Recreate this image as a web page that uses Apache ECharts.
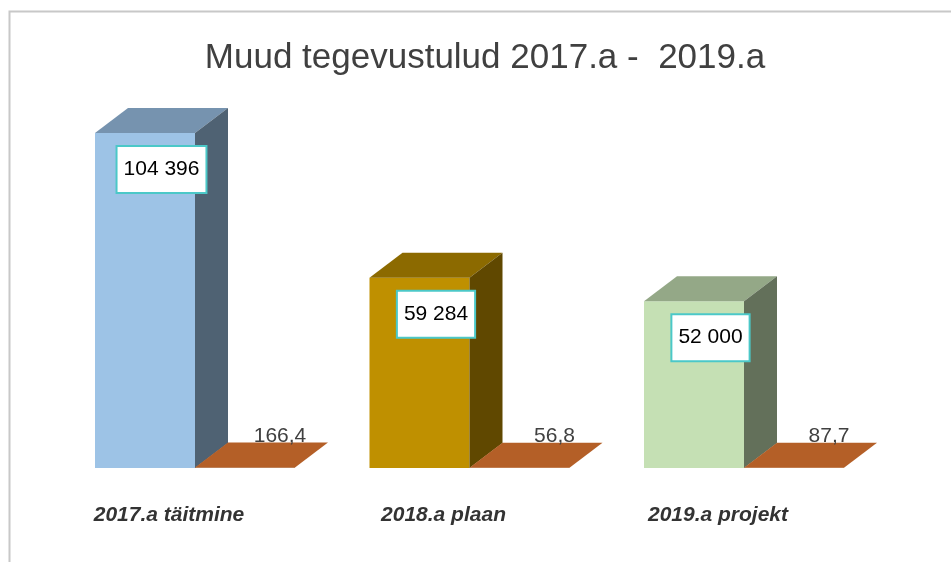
<!DOCTYPE html>
<html>
<head>
<meta charset="utf-8">
<script src="https://cdn.jsdelivr.net/npm/echarts@6/dist/echarts.min.js"></script>
<style>
  html, body { margin: 0; padding: 0; background: #ffffff; }
  #chart { width: 951px; height: 562px; }
</style>
</head>
<body>
<div id="chart"></div>
<script>
// ---- data ----
const categories = ['2017.a täitmine', '2018.a plaan', '2019.a projekt'];
const mainValues = [104396, 59284, 52000];
const subValues = [166.4, 56.8, 87.7];

// ---- styles ----
const frontColors = ['#9DC3E6', '#BF9000', '#C5E0B4'];
const topColors = ['#7693AF', '#8C6A00', '#94A887'];
const sideColors = ['#4F6273', '#604800', '#63705A'];
const subTopColor = '#B45F27';
const subFrontColor = '#8A4719';
const DX = 33, DY = -25;
const BAR_RATIO = 100 / 274.5;
const FONT = '"Liberation Sans", Arial, sans-serif';

function fmtMain(v) {
  return String(Math.round(v)).replace(/\B(?=(\d{3})+(?!\d))/g, ' ');
}
function fmtSub(v) {
  return v.toFixed(1).replace('.', ',');
}

function renderMain(params, api) {
  const i = params.dataIndex;
  const v = api.value(1);
  const base = api.coord([i, 0]);
  const top = api.coord([i, v]);
  const band = api.size([1, 0])[0];
  const w = band * BAR_RATIO;
  const x0 = base[0] - w, x1 = base[0];
  const yb = base[1], yt = top[1];
  return {
    type: 'group',
    children: [
      { type: 'rect', shape: { x: x0, y: yt, width: w, height: yb - yt },
        style: { fill: frontColors[i] } },
      { type: 'polygon', shape: { points: [[x0, yt], [x1, yt], [x1 + DX, yt + DY], [x0 + DX, yt + DY]] },
        style: { fill: topColors[i] } },
      { type: 'polygon', shape: { points: [[x1, yt], [x1 + DX, yt + DY], [x1 + DX, yb + DY], [x1, yb]] },
        style: { fill: sideColors[i] } },
      { type: 'text', x: x0 + w / 2 + DX / 2, y: yt + 14,
        style: { text: fmtMain(v), fill: '#000000', fontSize: 21, fontFamily: FONT,
          align: 'center', verticalAlign: 'top', textAlign: 'center', textVerticalAlign: 'top',
          backgroundColor: '#ffffff', borderColor: '#4BC8C8', borderWidth: 2, padding: [12, 6, 12, 6] } }
    ]
  };
}

function renderSub(params, api) {
  const i = params.dataIndex;
  const v = api.value(1);
  const base = api.coord([i, 0]);
  const top = api.coord([i, v]);
  const band = api.size([1, 0])[0];
  const w = band * BAR_RATIO;
  const x0 = base[0], x1 = base[0] + w;
  const yb = base[1], yt = top[1];
  return {
    type: 'group',
    children: [
      { type: 'rect', shape: { x: x0, y: yt, width: w, height: Math.max(yb - yt, 0) },
        style: { fill: subFrontColor } },
      { type: 'polygon', shape: { points: [[x0, yt], [x1, yt], [x1 + DX, yt + DY], [x0 + DX, yt + DY]] },
        style: { fill: subTopColor } },
      { type: 'text', x: x0 + DX + w / 2 + 2, y: yt + DY + 4,
        style: { text: fmtSub(v), fill: '#404040', fontSize: 21, fontFamily: FONT,
          align: 'center', verticalAlign: 'bottom', textAlign: 'center', textVerticalAlign: 'bottom' } }
    ]
  };
}

const chart = echarts.init(document.getElementById('chart'), null, { renderer: 'canvas' });
chart.setOption({
  animation: false,
  backgroundColor: '#ffffff',
  title: {
    text: 'Muud tegevustulud 2017.a -  2019.a',
    left: 480, top: 36, textAlign: 'center',
    textStyle: { fontSize: 35, fontWeight: 'normal', color: '#404040', fontFamily: FONT }
  },
  graphic: [
    { type: 'rect', shape: { x: 9.5, y: 11.5, width: 1000, height: 600 },
      style: { fill: 'none', stroke: '#C8C8C8', lineWidth: 2 }, silent: true }
  ],
  grid: { left: 57.75, right: 69.75, top: 83, bottom: 94 },
  xAxis: {
    type: 'category',
    data: categories,
    axisLine: { show: false },
    axisTick: { show: false },
    splitLine: { show: false },
    axisLabel: {
      margin: 37, fontSize: 21, fontWeight: 'bold', fontStyle: 'italic',
      color: '#333333', fontFamily: FONT, padding: [0, 52, 0, 0]
    }
  },
  yAxis: {
    type: 'value', min: 0, max: 120000, show: false,
    splitLine: { show: false }
  },
  series: [
    { type: 'custom', name: 'main', renderItem: renderMain,
      data: mainValues.map((v, i) => [i, v]), encode: { x: 0, y: 1 } },
    { type: 'custom', name: 'sub', renderItem: renderSub,
      data: subValues.map((v, i) => [i, v]), encode: { x: 0, y: 1 } }
  ]
});
</script>
</body>
</html>
